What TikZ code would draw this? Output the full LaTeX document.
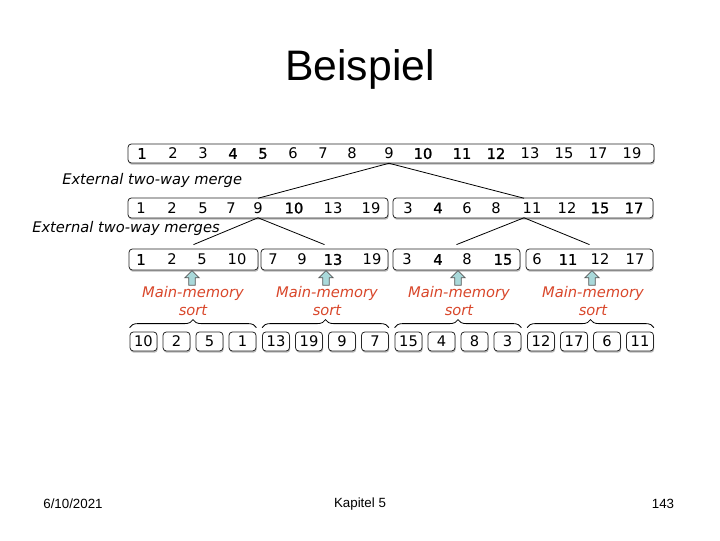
\documentclass[tikz,border=0pt]{standalone}
\usepackage{fontspec}
\setmainfont{Liberation Sans}
\newfontfamily\vfont{DejaVu Sans}
\newfontface\vsemi{DejaVu Sans}[FakeBold=1.2]
\usetikzlibrary{positioning, fit, shapes.arrows, decorations.pathreplacing, shadows}
\definecolor{sortred}{HTML}{D9472B}
\definecolor{arrowteal}{HTML}{A9D9DA}
\newcommand{\bnum}[1]{{\vsemi #1}}

\tikzset{
    rowbox/.style={draw=black!85, line width=0.6pt, rounded corners=2.5pt, fill=white, inner sep=0pt,
        drop shadow={shadow xshift=0.5pt, shadow yshift=-1.3pt, fill=black!45, opacity=0.6}},
    num/.style={font=\vfont\fontsize{11}{13}\selectfont, minimum height=14.25pt, inner sep=0pt},
    cellbox/.style={rowbox, num, minimum width=20.25pt},
    mergelabel/.style={font=\vfont\itshape\fontsize{11}{13}\selectfont, anchor=west, inner sep=0pt},
    sortlabel/.style={font=\vfont\itshape\fontsize{11}{13.5}\selectfont, text=sortred, align=center, inner sep=0pt},
    uparrow/.style={single arrow, shape border rotate=90, draw=black!65, fill=arrowteal, line width=0.5pt,
        minimum height=11pt, inner sep=2.2pt, single arrow head extend=3pt},
    bracedeco/.style={decorate, decoration={brace, amplitude=6pt}, line width=0.6pt}
}

\begin{document}
\begin{tikzpicture}[x=0.75pt, y=-0.75pt]
    \fill[white] (0,0) rectangle (720,540);
    \useasboundingbox (0,0) rectangle (720,540);

    % Title and footer
    \node[font=\fontsize{32}{38}\selectfont] (title) at (360,69) {Beispiel};
    \node[font=\fontsize{10}{12}\selectfont] (date) at (73,504) {6/10/2021};
    \node[font=\fontsize{10}{12}\selectfont] (chapter) at (360,504) {Kapitel 5};
    \node[font=\fontsize{10}{12}\selectfont] (page) at (663,504) {143};

    % Boxes of the three merged rows
    \node[rowbox, fit={(128,144) (654,163)}] (row1) {};
    \node[rowbox, fit={(128,198) (388,218)}] (row2a) {};
    \node[rowbox, fit={(393,198) (653,218)}] (row2b) {};
    \node[rowbox, fit={(129,249) (258,270)}] (row3a) {};
    \node[rowbox, fit={(261,249) (388,270)}] (row3b) {};
    \node[rowbox, fit={(393,249) (520,270)}] (row3c) {};
    \node[rowbox, fit={(526,249) (653,270)}] (row3d) {};

    % Numbers
    \foreach \x/\v [count=\i] in {142/\bnum{1},173/2,203/3,233/\bnum{4},263/\bnum{5},293/6,323/7,352/8,
        389/9,423/\bnum{10},462/\bnum{11},496/\bnum{12},530/13,564/15,598/17,632/19}
        \node[num] (r1n\i) at (\x,153.5) {\v};
    \foreach \x/\v [count=\i] in {141/1,172/2,203/5,231/7,258/9,294/\bnum{10},333/13,371/19,
        408/3,438/\bnum{4},467/6,496/8,532/11,567/12,600/\bnum{15},634/\bnum{17}}
        \node[num] (r2n\i) at (\x,208) {\v};
    \foreach \x/\v [count=\i] in {141/\bnum{1},172/2,202/5,237/10,273/7,302/9,333/\bnum{13},372/19,
        407/3,438/\bnum{4},467/8,503/\bnum{15},537/6,568/\bnum{11},600/12,635/17}
        \node[num] (r3n\i) at (\x,259.5) {\v};

    \node[mergelabel] (merge1) at (62,180) {External two-way merge};
    \node[mergelabel] (merge2) at (32,228) {External two-way merges};

    % Merge connectors
    \draw[line width=0.6pt] (r2n5.north) -- (r1n9.south) -- ([xshift=-6pt]r2n13.north);
    \draw[line width=0.6pt] ([yshift=3pt]row3a.north) -- (r2n5.south) -- ([yshift=3pt]row3b.north);
    \draw[line width=0.6pt] ([yshift=3pt]row3c.north) -- ([xshift=-6pt]r2n13.south) -- ([yshift=3pt]row3d.north);

    % Main-memory sort
    \foreach \x [count=\i] in {192,326,458,592} {
        \node[uparrow] (up\i) at (\x,279.5) {};
        \node[sortlabel] (sort\i) at (\x+1,301) {Main-memory\\sort};
    }

    % Unsorted cells
    \foreach \v [count=\i from 0] in {10,2,5,1,13,19,9,7,15,4,8,3,12,17,6,11} {
        \pgfmathsetmacro\cx{143.5+33*mod(\i,4)+132.5*int(\i/4)}
        \node[cellbox] (c\i) at (\cx,341.5) {\v};
    }
    \foreach \g in {0,...,3} {
        \pgfmathtruncatemacro\ca{4*\g}
        \pgfmathtruncatemacro\cb{4*\g+3}
        \draw[bracedeco] ([yshift=3pt]c\ca.north west) -- ([yshift=3pt]c\cb.north east);
    }
\end{tikzpicture}
\end{document}
